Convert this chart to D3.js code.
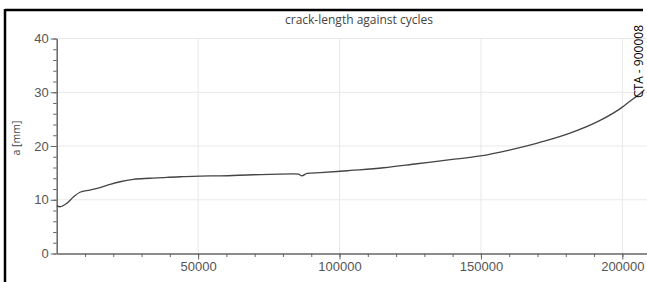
<!DOCTYPE html>
<html>
<head>
<meta charset="utf-8">
<script src="https://cdn.jsdelivr.net/npm/d3@7"></script>
<style>
  body { margin: 0; background: #fff; }
  svg { display: block; font-family: "Open Sans", "Noto Sans", sans-serif; }
  .tick text { fill: #555; font-size: 13px; }
  .axis path, .axis line { stroke: #666; }
  .grid line { stroke: #e8e8e8; }
  .title { fill: #444; font-size: 12px; }
  .label { fill: #444; font-size: 10.5px; }
</style>
</head>
<body>
<svg width="647" height="282"></svg>
<script>
// **** data ****
var cycles = [0, 1200, 3500, 5900, 8200, 11800, 15300, 18900, 22400, 27100, 33000, 38900, 44800,
    50700, 57800, 69600, 83700, 85500, 86700, 88500, 93200, 100300, 104000, 115600, 127400,
    139200, 149800, 160000, 170000, 180500, 192300, 199400, 204100, 207100, 207800];
var crackLength = [8.85, 8.7, 9.3, 10.5, 11.4, 11.8, 12.25, 12.85, 13.35, 13.8, 14.0, 14.18, 14.3,
    14.4, 14.45, 14.65, 14.8, 14.75, 14.45, 14.9, 15.05, 15.3, 15.45, 15.95, 16.7,
    17.45, 18.15, 19.25, 20.55, 22.2, 24.8, 27.0, 28.9, 30.1, 30.5];
var xTicks = [50000, 100000, 150000, 200000];
var yTicks = [0, 10, 20, 30, 40];

// **** scales ****
var xScale = d3.scaleLinear().domain([0, 209000]).range([56.7, 647.8]);
var yScale = d3.scaleLinear().domain([0, 40]).range([253.5, 38.5]);

var svg = d3.select('svg');

// frame
svg.append('line').attr('x1', 5).attr('x2', 643).attr('y1', 10).attr('y2', 10)
    .attr('stroke', '#000').attr('stroke-width', 2.5);
svg.append('line').attr('x1', 5).attr('x2', 5).attr('y1', 9).attr('y2', 282)
    .attr('stroke', '#000').attr('stroke-width', 2.5);

// gridlines
svg.append('g').attr('class', 'grid')
    .selectAll('line').data(xTicks).enter().append('line')
    .attr('x1', function (d) { return xScale(d); }).attr('x2', function (d) { return xScale(d); })
    .attr('y1', yScale(0)).attr('y2', yScale(40));
svg.append('g').attr('class', 'grid')
    .selectAll('line').data(yTicks.slice(1)).enter().append('line')
    .attr('x1', xScale(0)).attr('x2', 647)
    .attr('y1', function (d) { return yScale(d); }).attr('y2', function (d) { return yScale(d); });

// minor ticks
svg.append('g').attr('class', 'x axis')
    .attr('transform', 'translate(0,' + yScale(0) + ')')
    .call(d3.axisBottom(xScale).tickValues(d3.range(10000, 209000, 10000)).tickSize(3.5).tickFormat(''))
    .call(function (g) { g.select('.domain').remove(); });
svg.append('g').attr('class', 'y axis')
    .attr('transform', 'translate(' + xScale(0) + ',0)')
    .call(d3.axisLeft(yScale).tickValues(d3.range(0, 41, 2)).tickSize(3.5).tickFormat(''))
    .call(function (g) { g.select('.domain').remove(); });

// major axes
svg.append('g').attr('class', 'x axis')
    .attr('transform', 'translate(0,' + yScale(0) + ')')
    .call(d3.axisBottom(xScale).tickValues(xTicks).tickFormat(d3.format('d'))
        .tickSize(6).tickSizeOuter(0).tickPadding(2))
    .call(function (g) { g.select('.domain').attr('stroke-width', 1.5); });
svg.append('g').attr('class', 'y axis')
    .attr('transform', 'translate(' + xScale(0) + ',0)')
    .call(d3.axisLeft(yScale).tickValues(yTicks).tickSize(6).tickSizeOuter(0).tickPadding(2))
    .call(function (g) { g.select('.domain').attr('stroke-width', 1.5); });

// curve
var points = cycles.map(function (c, i) { return [c, crackLength[i]]; });
svg.append('path')
    .datum(points)
    .attr('fill', 'none')
    .attr('stroke', '#444')
    .attr('stroke-width', 1.3)
    .attr('d', d3.line()
        .x(function (d) { return xScale(d[0]); })
        .y(function (d) { return yScale(d[1]); })
        .curve(d3.curveMonotoneX));

// texts
svg.append('text').attr('class', 'title')
    .attr('x', 359).attr('y', 24).attr('text-anchor', 'middle')
    .text('crack-length against cycles');
svg.append('text').attr('class', 'label')
    .attr('transform', 'translate(20,138) rotate(-90)').attr('text-anchor', 'middle')
    .text('a [mm]');
svg.append('text')
    .attr('transform', 'translate(643,98) rotate(-90)')
    .style('font-size', '12px').style('fill', '#000')
    .text('CTA - 900008');
</script>
</body>
</html>
